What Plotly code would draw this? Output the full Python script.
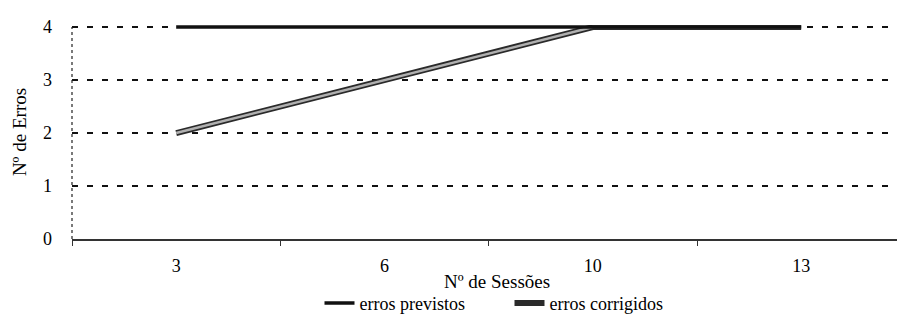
import plotly.graph_objects as go

sessions = ["3", "6", "10", "13"]
erros_previstos = [4, 4, 4, 4]
erros_corrigidos = [2, 3, 4, 4]
y_ticks = [0, 1, 2, 3, 4]

FONT = "Liberation Serif, Times New Roman, serif"

fig = go.Figure()

# erros corrigidos: gray line with black outline (outer black + inner gray)
fig.add_trace(go.Scatter(
    x=sessions, y=erros_corrigidos, mode="lines", name="erros corrigidos",
    line=dict(color="#2a2a2a", width=6), legendrank=2, showlegend=True,
))
fig.add_trace(go.Scatter(
    x=sessions, y=erros_corrigidos, mode="lines", name="erros corrigidos",
    line=dict(color="#b0b0b0", width=2.5), showlegend=False, hoverinfo="skip",
))
# erros previstos: black line drawn on top
fig.add_trace(go.Scatter(
    x=sessions, y=erros_previstos, mode="lines", name="erros previstos",
    line=dict(color="#111111", width=3.5), legendrank=1,
))

fig.update_layout(
    width=897, height=322,
    margin=dict(l=72, r=0, t=25, b=67),
    paper_bgcolor="white", plot_bgcolor="white",
    font=dict(family=FONT, size=18, color="black"),
    showlegend=True,
    legend=dict(
        orientation="h", x=0.30, xanchor="left", y=-0.30, yanchor="middle",
        font=dict(family=FONT, size=18, color="black"),
        itemwidth=30, entrywidth=145, entrywidthmode="pixels",
        tracegroupgap=0, bgcolor="rgba(0,0,0,0)",
        traceorder="normal",
    ),
    xaxis=dict(
        type="category", categoryorder="array", categoryarray=sessions,
        range=[-0.5, 3.46],
        showgrid=False, zeroline=False,
        showline=True, linecolor="#333333", linewidth=1.5,
        ticks="outside", tickson="boundaries", ticklen=5, tickcolor="#333333",
        tickwidth=1,
        ticklabelstandoff=10,
        tickfont=dict(family=FONT, size=18, color="black"),
    ),
    yaxis=dict(
        range=[0, 4.04], tickvals=y_ticks, ticktext=[str(v) for v in y_ticks],
        showgrid=True, gridcolor="#111111", gridwidth=2, griddash="6px,9px",
        zeroline=False, showline=False, ticks="",
        ticklabelstandoff=19,
        tickfont=dict(family=FONT, size=18, color="black"),
        title=dict(text="Nº de Erros", font=dict(family=FONT, size=19, color="black"),
                   standoff=11),
    ),
    annotations=[dict(
        text="Nº de Sessões", xref="paper", yref="paper", x=0.515, y=-0.20,
        xanchor="center", yanchor="middle", showarrow=False,
        font=dict(family=FONT, size=19, color="black"),
    )],
    shapes=[dict(
        type="line", xref="x domain", yref="y", x0=0, x1=0, y0=0, y1=4,
        line=dict(color="#222222", width=1.2, dash="3px,3px"), layer="above",
    )],
)

fig.write_html("out.html")
